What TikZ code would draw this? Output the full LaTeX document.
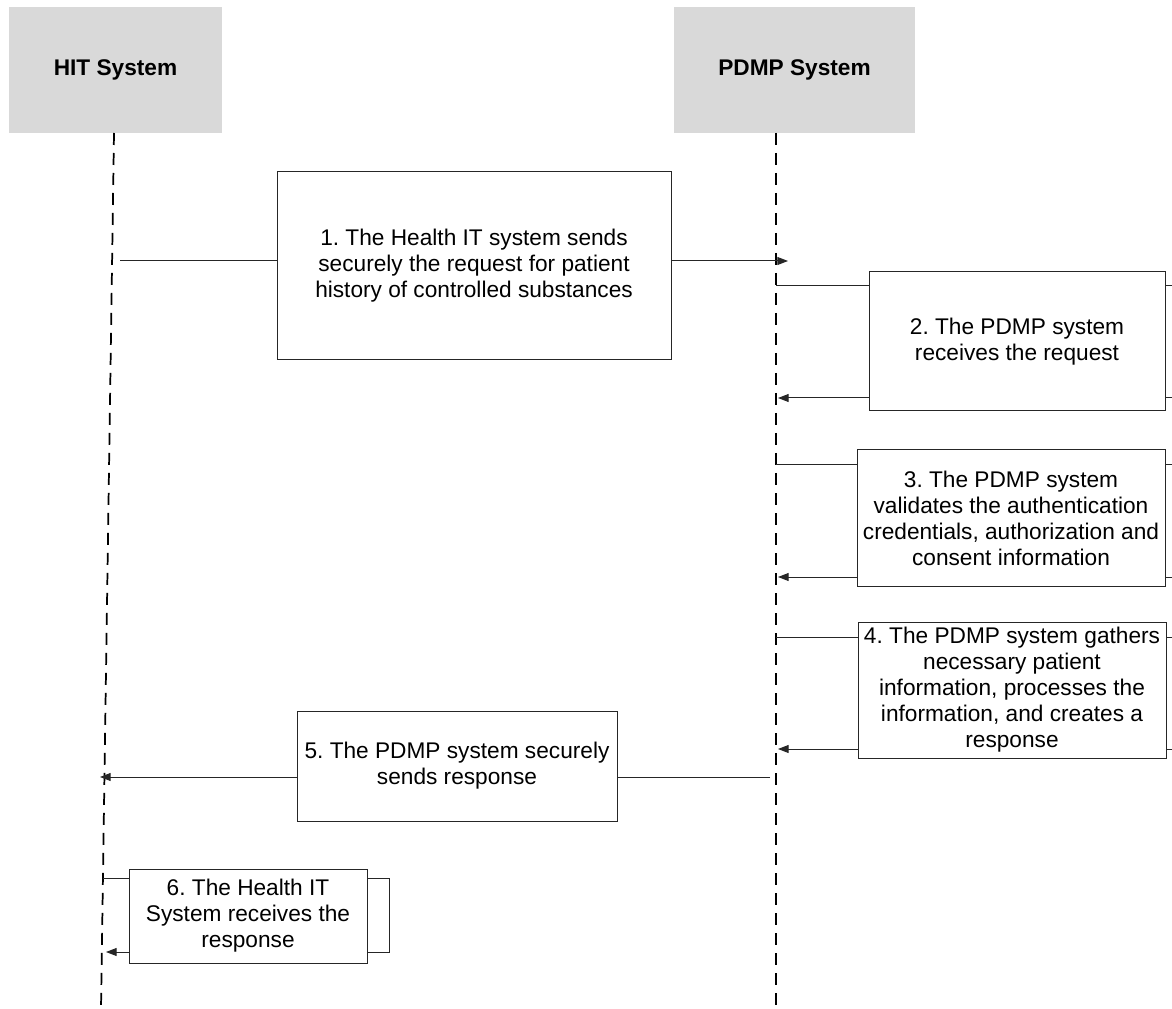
\documentclass[tikz,border=0pt]{standalone}
\usepackage{fontspec}
\setmainfont{Liberation Sans}
\usetikzlibrary{arrows.meta}

\begin{document}
\frenchspacing
\begin{tikzpicture}[x=.75pt, y=-.75pt,
    font=\fontsize{17pt}{19.5pt}\selectfont,
    actor/.style={fill=black!15, inner sep=0pt, outer sep=0pt,
      font=\fontsize{17pt}{19.5pt}\selectfont\bfseries},
    stepbox/.style={draw=black!85, fill=white, align=center,
      inner sep=0pt, outer sep=0pt, line width=.75pt},
    lifeline/.style={line width=1.3pt, dash pattern=on 9pt off 6pt},
    wire/.style={draw=black!85, line width=.75pt},
    msg/.style={wire, -{Triangle[length=8pt,width=6pt]}}]
  \useasboundingbox (0,0) rectangle (1172,1009);

  % actors
  \node[actor, minimum width=213*.75pt, minimum height=126*.75pt] (hit) at (115.5,70) {HIT System};
  \node[actor, minimum width=241*.75pt, minimum height=126*.75pt] (pdmp) at (794.5,70) {PDMP System};

  % lifelines
  \coordinate (hitEnd) at (101,1009);
  \coordinate (pdmpEnd) at (776,1009);
  \draw[lifeline] (hit.south -| 114,0) -- (hitEnd);
  \draw[lifeline] (pdmp.south -| pdmpEnd) -- (pdmpEnd);

  % steps
  \node[stepbox, minimum width=394*.75pt, minimum height=188*.75pt] (s1) at (474,266)
    {1. The Health IT system sends\\securely the request for patient\\history of controlled substances};
  \node[stepbox, minimum width=296*.75pt, minimum height=139*.75pt] (s2) at (1017,341.5)
    {2. The PDMP system\\receives the request};
  \node[stepbox, minimum width=308*.75pt, minimum height=136*.75pt] (s3) at (1011,518)
    {3. The PDMP system\\validates the authentication\\credentials, authorization and\\consent information};
  \node[stepbox, minimum width=308*.75pt, minimum height=136*.75pt] (s4) at (1012,690)
    {4. The PDMP system gathers\\necessary patient\\information, processes the\\information, and creates a\\response};
  \node[stepbox, minimum width=320*.75pt, minimum height=110*.75pt] (s5) at (457,766)
    {5. The PDMP system securely\\sends response};
  \node[stepbox, minimum width=238*.75pt, minimum height=94*.75pt] (s6) at (248,916)
    {6. The Health IT\\System receives the\\response};

  % message 1
  \coordinate (m1a) at (120,261);
  \coordinate (m1b) at (788,261);
  \draw[wire] (m1a) -- (s1.west |- m1a);
  \draw[msg] (s1.east |- m1a) -- (m1b);

  % self messages on the PDMP lifeline
  \foreach \s/\ya/\yb in {s2/286/398, s3/465/577, s4/637/749} {
    \coordinate (a) at (776,\ya);
    \coordinate (b) at (778,\yb);
    \coordinate (ra) at (1172,\ya);
    \coordinate (rb) at (1172,\yb);
    \draw[wire] (a) -- (\s.west |- a);
    \draw[wire] (\s.east |- a) -- (ra);
    \draw[wire] (rb) -- (\s.east |- b);
    \draw[msg] (\s.west |- b) -- (b);
  }

  % message 5
  \coordinate (m5a) at (770,777);
  \coordinate (m5b) at (100,777);
  \draw[wire] (m5a) -- (s5.east |- m5a);
  \draw[msg] (s5.west |- m5a) -- (m5b);

  % self message on the HIT lifeline
  \coordinate (m6a) at (103,878);
  \coordinate (m6b) at (106,952);
  \coordinate (m6c) at (389,878);
  \coordinate (m6d) at (389,952);
  \draw[wire] (m6a) -- (s6.west |- m6a);
  \draw[wire] (s6.east |- m6c) -- (m6c) -- (m6d) -- (s6.east |- m6d);
  \draw[msg] (s6.west |- m6b) -- (m6b);
\end{tikzpicture}
\end{document}
